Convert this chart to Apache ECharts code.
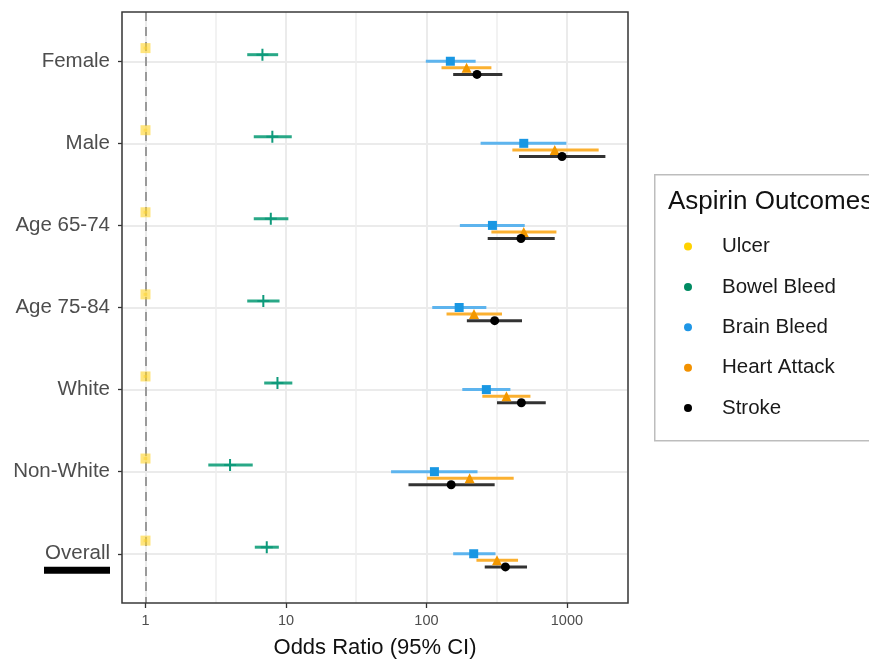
<!DOCTYPE html>
<html><head><meta charset="utf-8">
<script src="https://cdn.jsdelivr.net/npm/echarts@6/dist/echarts.min.js"></script>
<style>html,body{margin:0;padding:0;background:#fff}#c{width:869px;height:664px}</style>
</head><body><div id="c"></div>
<script>
// ---------- data ----------
const categories = ['Female', 'Male', 'Age 65-74', 'Age 75-84', 'White', 'Non-White', 'Overall'];
const outcomes = ['Ulcer', 'Bowel Bleed', 'Brain Bleed', 'Heart Attack', 'Stroke'];

const ulcerOR = [1, 1, 1, 1, 1, 1, 1];
const ulcerLo = [0.97, 0.97, 0.97, 0.97, 0.97, 0.97, 0.97];
const ulcerHi = [1.03, 1.03, 1.03, 1.03, 1.03, 1.03, 1.03];

const bowelOR = [6.8, 8.0, 7.8, 6.9, 8.7, 4.0, 7.3];
const bowelLo = [5.3, 5.9, 5.9, 5.3, 7.0, 2.8, 6.0];
const bowelHi = [8.8, 11.0, 10.4, 9.0, 11.1, 5.8, 8.9];

const brainOR = [148, 493, 295, 171, 267, 114, 217];
const brainLo = [99, 243, 173, 110, 180, 56, 155];
const brainHi = [224, 991, 501, 267, 396, 231, 310];

const heartOR = [193, 819, 493, 218, 371, 203, 318];
const heartLo = [128, 409, 290, 139, 250, 101, 227];
const heartHi = [290, 1683, 842, 345, 550, 418, 449];

const strokeOR = [229, 923, 471, 306, 474, 150, 365];
const strokeLo = [155, 456, 273, 194, 318, 74.5, 260];
const strokeHi = [347, 1879, 819, 479, 707, 306, 520];

const xTickValues = [1, 10, 100, 1000];
const refLineValue = 1;

// ---------- styles ----------
const FONT = 'Liberation Sans, Arial, Helvetica, sans-serif';
const dodge = [-0.16, -0.08, 0, 0.08, 0.16];
const markerStyle = [
  { symbol: 'rect', size: 10, color: 'rgba(255,212,40,0.6)' },
  { symbol: 'path://M5,0H7V5H12V7H7V12H5V7H0V5H5Z', size: 12, color: '#0E9A7B' },
  { symbol: 'rect', size: 9, color: '#1997E3' },
  { symbol: 'triangle', size: 10, color: '#F39800' },
  { symbol: 'circle', size: 9, color: '#000000' }
];
const barColors = ['rgba(255,212,40,0.5)', 'rgba(18,158,122,0.9)', '#5DB4EE', '#FBB030', '#333333'];
const legendColors = ['#FFD200', '#008B62', '#1E96E6', '#F29100', '#000000'];

const ors = [ulcerOR, bowelOR, brainOR, heartOR, strokeOR];
const los = [ulcerLo, bowelLo, brainLo, heartLo, strokeLo];
const his = [ulcerHi, bowelHi, brainHi, heartHi, strokeHi];

const yTicks = categories.map((_, i) => i + 1);
const minorBreaks = xTickValues.slice(0, -1).map(v => v * Math.sqrt(10));

const series = [];
// minor vertical grid lines (half-decades)
series.push({
  type: 'scatter', name: '_minor', data: [], z: 1, silent: true,
  markLine: {
    z: 1, silent: true, symbol: ['none', 'none'], label: { show: false }, animation: false,
    lineStyle: { color: '#EEEEEE', width: 1.5, type: 'solid' },
    data: minorBreaks.map(v => ({ xAxis: v }))
  }
});
// dashed reference line at OR = 1
series.push({
  type: 'scatter', name: '_ref', data: [], z: 1, silent: true,
  markLine: {
    z: 1.5, silent: true, symbol: ['none', 'none'], label: { show: false }, animation: false,
    lineStyle: { color: '#9A9A9A', width: 2, type: [9, 6] },
    data: [{ xAxis: refLineValue }]
  }
});

outcomes.forEach((name, k) => {
  series.push({
    type: 'custom', name, z: 2, silent: true,
    data: los[k].map((l, i) => [l, his[k][i], i + 1 + dodge[k]]),
    encode: { x: [0, 1], y: 2 },
    renderItem: (params, api) => {
      const a = api.coord([api.value(0), api.value(2)]);
      const b = api.coord([api.value(1), api.value(2)]);
      return { type: 'line', shape: { x1: a[0], y1: a[1], x2: b[0], y2: b[1] },
               style: { stroke: barColors[k], lineWidth: 3 } };
    }
  });
});
outcomes.forEach((name, k) => {
  series.push({
    type: 'scatter', name, z: 3, silent: true,
    symbol: markerStyle[k].symbol, symbolSize: markerStyle[k].size,
    itemStyle: { color: markerStyle[k].color, opacity: 1 },
    data: ors[k].map((v, i) => [v, i + 1 + dodge[k]])
  });
});

const isPow10 = v => v > 0 && Math.abs(Math.log10(v) - Math.round(Math.log10(v))) < 1e-6;

const chart = echarts.init(document.getElementById('c'), null, { renderer: 'canvas' });
chart.setOption({
  animation: false,
  backgroundColor: '#ffffff',
  textStyle: { fontFamily: FONT },
  grid: {
    left: 122, right: 241, top: 12, bottom: 59, show: true, z: 10,
    borderColor: '#3a3a3a', borderWidth: 1.5, backgroundColor: 'transparent'
  },
  graphic: [{
    type: 'rect', left: 654, top: 174, z: 0,
    shape: { width: 260, height: 266 },
    style: { fill: '#ffffff', stroke: '#BDBDBD', lineWidth: 1.5 }
  }],
  title: {
    text: 'Aspirin Outcomes', left: 668, top: 189, padding: 0, z: 8,
    textStyle: { fontFamily: FONT, fontSize: 26, fontWeight: 'normal', color: '#111' }
  },
  legend: {
    orient: 'vertical', left: 684, top: 236, z: 6,
    data: outcomes.map((n, i) => ({ name: n, icon: 'circle', itemStyle: { color: legendColors[i] } })),
    itemWidth: 8, itemHeight: 8, itemGap: 19.4,
    padding: 0,
    selectedMode: false,
    textStyle: { fontFamily: FONT, fontSize: 20.5, lineHeight: 20, color: '#1a1a1a', padding: [0, 0, 0, 25] }
  },
  xAxis: {
    type: 'log', logBase: 10, min: 0.6805, max: 2722,
    name: 'Odds Ratio (95% CI)', nameLocation: 'middle', nameGap: 34,
    nameTextStyle: { fontFamily: FONT, fontSize: 22, color: '#111' },
    axisLine: { show: false },
    axisTick: { show: true, length: 5, lineStyle: { color: '#333', width: 1.3 } },
    axisLabel: {
      fontFamily: FONT, fontSize: 14.5, color: '#4d4d4d', margin: 10,
      showMinLabel: false, showMaxLabel: false,
      formatter: v => (isPow10(v) ? String(Math.round(v)) : '')
    },
    splitLine: { show: true, lineStyle: { color: '#EBEBEB', width: 2 } }
  },
  yAxis: {
    type: 'value', inverse: true, min: 0.4, max: 7.6,
    axisLine: { show: false },
    axisTick: { show: true, length: 4, customValues: yTicks, lineStyle: { color: '#333', width: 1.3 } },
    axisLabel: {
      customValues: yTicks, fontFamily: FONT, fontSize: 20.5, color: '#4d4d4d', margin: 12,
      formatter: v => {
        const name = categories[Math.round(v) - 1] || '';
        if (Math.round(v) === categories.length) return '{sp|}\n{ov|' + name + '}\n{bar|}';
        return name;
      },
      rich: {
        sp: { height: 7 },
        ov: { fontFamily: FONT, fontSize: 20.5, color: '#4d4d4d', lineHeight: 26 },
        bar: { height: 7, width: 66, backgroundColor: '#000' }
      }
    },
    splitLine: { show: true, lineStyle: { color: '#EBEBEB', width: 2 } }
  },
  series
});
</script></body></html>
